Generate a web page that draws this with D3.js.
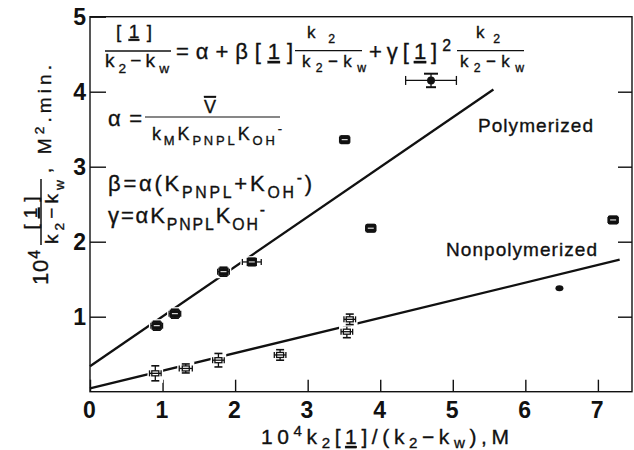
<!DOCTYPE html>
<html>
<head>
<meta charset="utf-8">
<script src="https://cdn.jsdelivr.net/npm/d3@7"></script>
<style>
  body { margin: 0; background: #fff; }
  svg { display: block; font-family: "Liberation Sans", Arial, sans-serif; }
  text { fill: #111; }
  .heavy text { stroke: #111; stroke-width: 0.35px; }
</style>
</head>
<body>
<script>
// values
const xTicks = [0, 1, 2, 3, 4, 5, 6, 7];
const yTicks = [1, 2, 3, 4, 5];

const polyX = [0.92, 1.17, 1.84, 2.23, 3.51, 3.87, 7.21];
const polyY = [0.88, 1.04, 1.60, 1.73, 3.36, 2.18, 2.29];
const polyXErr = [0.08, 0.08, 0.08, 0.13, 0.07, 0.07, 0.07];
const polyYErr = [0.06, 0.06, 0.06, 0.05, 0.05, 0.05, 0.05];

const nonX = [0.90, 1.32, 1.77, 2.62, 3.54, 3.58];
const nonY = [0.245, 0.31, 0.42, 0.49, 0.80, 0.965];
const nonXErr = [0.08, 0.09, 0.08, 0.08, 0.08, 0.08];
const nonYErr = [0.10, 0.06, 0.09, 0.07, 0.08, 0.07];

const wideX = [4.70];
const wideY = [4.15];
const wideXErr = [0.35];
const wideYErr = [0.09];

const dotX = [6.47];
const dotY = [1.38];

const polyFitX = [0, 5.56];
const polyFitY = [0.34, 4.03];
const nonFitX = [0, 7.30];
const nonFitY = [0.045, 1.76];

const w = 634;
const h = 450;

const svg = d3.select("body")
  .append("svg")
  .attr("width", w)
  .attr("height", h);

const x = d3.scaleLinear().domain([0, 7.47]).range([90, 632]);
const y = d3.scaleLinear().domain([0, 5]).range([391.7, 16.7]);

// frame
svg.append("rect")
  .attr("x", x(0)).attr("y", y(5))
  .attr("width", x(7.47) - x(0)).attr("height", y(0) - y(5))
  .attr("fill", "none").attr("stroke", "#111").attr("stroke-width", 1.4);

svg.append("g")
  .attr("transform", "translate(" + x(0) + ",0)")
  .call(d3.axisLeft(y).tickValues(yTicks).tickFormat(d3.format("d")).tickSize(-16).tickPadding(4));

svg.append("g")
  .attr("transform", "translate(" + x(7.47) + ",0)")
  .call(d3.axisRight(y).tickValues([1, 2, 3, 4]).tickSize(-14).tickFormat(""));

const xAxis = svg.append("g")
  .attr("transform", "translate(0," + y(0) + ")")
  .call(d3.axisBottom(x).tickValues(xTicks).tickFormat(d3.format("d")).tickSize(-12).tickPadding(10));

svg.selectAll(".domain").remove();
svg.selectAll(".tick line").attr("stroke", "#111").attr("stroke-width", 1.4);
svg.selectAll(".tick text")
  .attr("fill", "#111")
  .style("font-family", "'Liberation Sans', Arial, sans-serif")
  .style("font-size", "23px")
  .style("font-weight", "bold");
xAxis.selectAll(".tick text").attr("dx", "-0.05em");

// fitted lines
const line = d3.line().x(d => x(d[0])).y(d => y(d[1]));
svg.append("path")
  .attr("d", line(d3.zip(polyFitX, polyFitY)))
  .attr("fill", "none").attr("stroke", "#111").attr("stroke-width", 2.3);
svg.append("path")
  .attr("d", line(d3.zip(nonFitX, nonFitY)))
  .attr("fill", "none").attr("stroke", "#111").attr("stroke-width", 2.3);

// points with error bars
function errMarks(xs, ys, xe, ye, kind) {
  const g = svg.append("g").attr("stroke", "#111").attr("stroke-width", 1.3);
  xs.forEach((xv, i) => {
    const cx = x(xv), cy = y(ys[i]);
    const hx = x(xv + xe[i]) - cx;
    const hy = cy - y(ys[i] + ye[i]);
    g.append("rect")
      .attr("x", cx - hx - 2).attr("y", cy - hy - 2)
      .attr("width", 2 * hx + 4).attr("height", 2 * hy + 4)
      .attr("fill", "#fff").attr("stroke", "none");
    const capV = kind === "wide" ? 4.5 : 3;
    const capTop = kind === "wide" ? 7 : 4;
    const capBot = kind === "wide" ? 5 : 4;
    g.append("line").attr("x1", cx - hx).attr("x2", cx + hx).attr("y1", cy).attr("y2", cy);
    g.append("line").attr("x1", cx).attr("x2", cx).attr("y1", cy - hy).attr("y2", cy + hy);
    g.append("line").attr("x1", cx - hx).attr("x2", cx - hx).attr("y1", cy - capV).attr("y2", cy + capV);
    g.append("line").attr("x1", cx + hx).attr("x2", cx + hx).attr("y1", cy - capV).attr("y2", cy + capV);
    g.append("line").attr("x1", cx - capTop).attr("x2", cx + capTop).attr("y1", cy - hy).attr("y2", cy - hy)
      .attr("stroke-width", kind === "wide" ? 2 : 1.6);
    g.append("line").attr("x1", cx - capBot).attr("x2", cx + capBot).attr("y1", cy + hy).attr("y2", cy + hy)
      .attr("stroke-width", kind === "wide" ? 2 : 1.6);
    if (kind === "poly") {
      g.append("rect").attr("x", cx - 4.5).attr("y", cy - 3.5).attr("width", 9).attr("height", 7)
        .attr("fill", "#111");
      g.append("line").attr("x1", cx - 3).attr("x2", cx + 3).attr("y1", cy).attr("y2", cy)
        .attr("stroke", "#fff").attr("stroke-width", 1);
    } else if (kind === "non") {
      g.append("rect").attr("x", cx - 3.5).attr("y", cy - 2.5).attr("width", 7).attr("height", 5)
        .attr("fill", "#fff");
      g.append("line").attr("x1", cx - 3.5).attr("x2", cx + 3.5).attr("y1", cy).attr("y2", cy);
    } else {
      g.append("circle").attr("cx", cx).attr("cy", cy).attr("r", 3.3).attr("fill", "#111");
    }
  });
}
errMarks(polyX, polyY, polyXErr, polyYErr, "poly");
errMarks(nonX, nonY, nonXErr, nonYErr, "non");
errMarks(wideX, wideY, wideXErr, wideYErr, "wide");

svg.selectAll(".dot")
  .data(d3.zip(dotX, dotY))
  .enter()
  .append("ellipse")
  .attr("class", "dot")
  .attr("cx", d => x(d[0])).attr("cy", d => y(d[1]))
  .attr("rx", 4).attr("ry", 3)
  .attr("fill", "#111");

// rich text helper: parts are [string, kind]; n normal, b sub, p sup, u underline, o overline
function rich(g, tx, ty, parts, size, len, anchor, subShift) {
  const t = g.append("text").attr("x", tx).attr("y", ty)
    .style("font-size", size + "px")
    .attr("text-anchor", anchor || "start");
  let shift = 0;
  parts.forEach(p => {
    const k = p[1] || "n";
    const target = k === "b" ? size * (subShift || 0.3) : k === "p" ? -size * 0.38 : 0;
    const ts = t.append("tspan").text(p[0]).attr("dy", target - shift);
    if (k === "b" || k === "p") ts.style("font-size", (size * 0.72) + "px");
    if (k === "u") ts.style("text-decoration", "underline");
    if (k === "o") ts.style("text-decoration", "overline");
    shift = target;
  });
  if (len) t.attr("textLength", len).attr("lengthAdjust", "spacing");
  return t;
}

function bar(g, x1, x2, by, sw) {
  g.append("line").attr("x1", x1).attr("x2", x2).attr("y1", by).attr("y2", by)
    .attr("stroke", "#111").attr("stroke-width", sw || 1.4);
}

const eq = svg.append("g").attr("class", "heavy");
const k2kw = [["k"], ["2", "b"], ["\u2212k"], ["w", "b"]];

// line 1
rich(eq, 134, 38, [["["], ["1", "u"], ["]"]], 19, 36, "middle");
bar(eq, 105, 171, 51);
rich(eq, 105, 67, k2kw, 19, 64);
rich(eq, 176, 59, [["=\u03b1+\u03b2["], ["1", "u"], ["]"]], 22, 117);
rich(eq, 307, 38, [["k"], ["2", "b"]], 17, 28);
bar(eq, 295, 362, 50.6);
rich(eq, 302, 67, k2kw, 17, 64);
rich(eq, 369, 59, [["+\u03b3["], ["1", "u"], ["]"], ["2", "p"]], 22, 82);
rich(eq, 476, 38, [["k"], ["2", "b"]], 17, 24);
bar(eq, 457, 524, 50.6);
rich(eq, 460, 67, k2kw, 17, 64);

// line 2
rich(eq, 108, 126, [["\u03b1="]], 22, 34);
rich(eq, 210, 113, [["V", "o"]], 18, null, "middle");
bar(eq, 145, 280, 117, 1.2);
rich(eq, 152, 140, [["k"], ["M", "b"], ["K"], ["PNPL", "b"], ["K"], ["OH", "b"], ["-", "p"]], 18, 130);

// line 3
rich(eq, 108, 191, [["\u03b2=\u03b1(K"], ["PNPL", "b"], ["+K"], ["OH", "b"], ["-", "p"], [")"]], 22, 204);

// line 4
rich(eq, 108, 223, [["\u03b3=\u03b1K"], ["PNPL", "b"], ["K"], ["OH", "b"], ["-", "p"]], 22, 157);

// series labels
const lab = svg.append("g").attr("class", "heavy");
rich(lab, 478, 132, [["Polymerized"]], 19, 115);
rich(lab, 446, 256, [["Nonpolymerized"]], 19, 151);

// x title
rich(lab, 261, 444, [["10"], ["4", "p"], ["k"], ["2", "b"], ["["], ["1", "u"], ["]/(k"], ["2", "b"], ["\u2212k"], ["w", "b"], ["),M"]], 21, 248, null, 0.2);

// y title
const yt = svg.append("g").attr("class", "heavy").attr("transform", "translate(48,285) rotate(-90)");
rich(yt, 0, 0, [["10"], ["4", "p"]], 22, 35);
rich(yt, 72, -11, [["["], ["1", "u"], ["]"]], 19, 33, "middle");
bar(yt, 40, 106, -7, 1.5);
rich(yt, 41, 10, k2kw, 19, 64);
rich(yt, 112, 3, [[", M"], ["2", "p"], [".min."]], 19, 108);
</script>
</body>
</html>
